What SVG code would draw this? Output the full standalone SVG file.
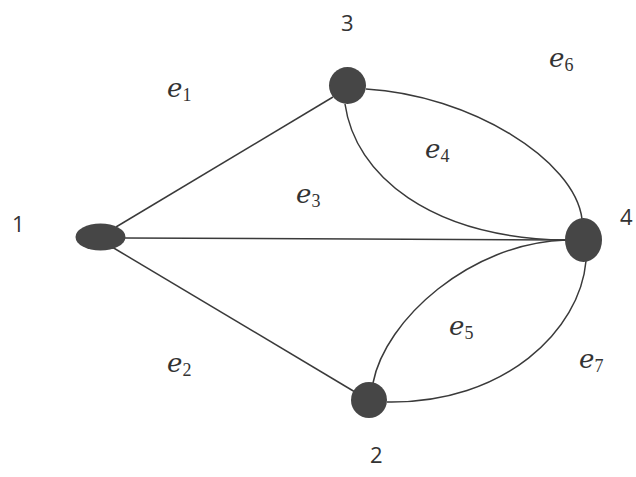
<svg xmlns="http://www.w3.org/2000/svg" width="636" height="477" viewBox="0 0 636 477">
<style>
.node{fill:#464646;}
.edge{fill:none;stroke:#3a3a3a;stroke-width:1.5;}
.num{font-family:"Open Sans","Liberation Sans",sans-serif;font-size:22px;fill:#333;}
.e{font-family:"DejaVu Serif","Liberation Serif",serif;font-style:italic;font-size:26px;fill:#333;}
.sub{font-family:"Liberation Serif",serif;font-style:normal;font-size:18px;}
</style>
<rect width="636" height="477" fill="#ffffff"/>
<g id="connectors">
<line id="e1" class="edge" x1="116" y1="227" x2="333" y2="97"/>
<line id="e2" class="edge" x1="112" y1="247" x2="355" y2="392"/>
<line id="e3" class="edge" x1="124" y1="238" x2="566" y2="240"/>
<path id="e4" class="edge" d="M345,104 C355,175 430,238 566,240"/>
<path id="e6" class="edge" d="M366,89 C470,95 575,160 582,219"/>
<path id="e5" class="edge" d="M566,240 C470,243 385,320 373,383"/>
<path id="e7" class="edge" d="M586,261 C580,330 505,404 387,402"/>
</g>
<g id="node1"><ellipse class="node" cx="100.5" cy="237" rx="25" ry="13.5"/><text class="num" x="12" y="232">1</text></g>
<g id="node3"><ellipse class="node" cx="347.5" cy="85.5" rx="18.5" ry="18.5"/><text class="num" x="341" y="31">3</text></g>
<g id="node4"><ellipse class="node" cx="583.5" cy="240" rx="18.5" ry="22"/><text class="num" x="620" y="225">4</text></g>
<g id="node2"><ellipse class="node" cx="369" cy="400" rx="18" ry="18"/><text class="num" x="370" y="463">2</text></g>
<g id="labels">
<text class="e" x="167" y="97">e<tspan class="sub" dy="4">1</tspan></text>
<text class="e" x="167" y="372">e<tspan class="sub" dy="4">2</tspan></text>
<text class="e" x="296" y="203">e<tspan class="sub" dy="4">3</tspan></text>
<text class="e" x="425" y="158">e<tspan class="sub" dy="4">4</tspan></text>
<text class="e" x="449" y="335">e<tspan class="sub" dy="4">5</tspan></text>
<text class="e" x="549" y="67">e<tspan class="sub" dy="4">6</tspan></text>
<text class="e" x="579" y="368">e<tspan class="sub" dy="4">7</tspan></text>
</g>
</svg>
